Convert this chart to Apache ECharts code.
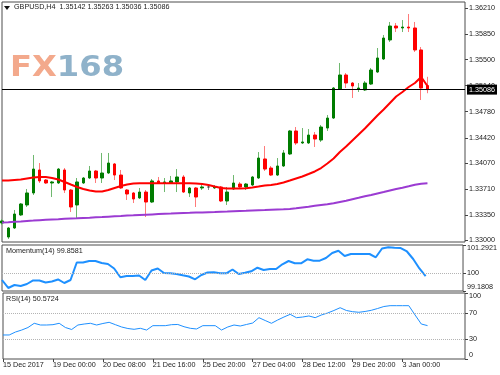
<!DOCTYPE html>
<html><head><meta charset="utf-8">
<script src="https://cdn.jsdelivr.net/npm/echarts@6/dist/echarts.min.js"></script>
<style>html,body{margin:0;padding:0;background:#fff}#c{width:500px;height:375px}</style>
</head><body><div id="c"></div>
<script>
const symbolName = 'GBPUSD,H4';
const xTickLabels = ['15 Dec 2017','19 Dec 00:00','20 Dec 08:00','21 Dec 16:00','25 Dec 20:00','27 Dec 04:00','28 Dec 12:00','29 Dec 20:00','3 Jan 00:00'];
const opens = [1.33242,1.33048,1.33173,1.33353,1.33491,1.33657,1.33975,1.33836,1.33795,1.33795,
1.33975,1.33698,1.33491,1.33795,1.33864,1.33961,1.33864,1.33933,1.34058,1.33905,
1.33698,1.33657,1.33588,1.33670,1.33532,1.33823,1.33795,1.33795,1.33809,1.33878,
1.33657,1.33726,1.33726,1.33740,1.33726,1.33740,1.33546,1.33712,1.33781,1.33740,
1.33767,1.33864,1.34127,1.34002,1.33905,1.34030,1.34196,1.34514,1.34348,1.34348,
1.34458,1.34389,1.34555,1.34693,1.35094,1.35288,1.35177,1.35094,1.35081,1.35163,
1.35329,1.35509,1.35772,1.35965,1.35938,1.35951,1.35938,1.35634,1.35142];
const closes = [1.33270,1.33173,1.33366,1.33505,1.33657,1.33988,1.33823,1.33795,1.33809,1.33988,
1.33698,1.33463,1.33809,1.33864,1.33961,1.33864,1.33933,1.34071,1.33905,1.33726,
1.33643,1.33574,1.33670,1.33532,1.33823,1.33795,1.33809,1.33823,1.33878,1.33670,
1.33726,1.33601,1.33740,1.33740,1.33740,1.33546,1.33670,1.33795,1.33740,1.33781,
1.33878,1.34140,1.33988,1.33905,1.34030,1.34210,1.34514,1.34348,1.34362,1.34458,
1.34403,1.34569,1.34693,1.35108,1.35288,1.35177,1.35136,1.35108,1.35177,1.35357,
1.35523,1.35799,1.35965,1.35938,1.35951,1.35938,1.35634,1.35108,1.35086];
const lows = [1.33214,1.33021,1.33159,1.33339,1.33463,1.33629,1.33795,1.33781,1.33601,1.33781,
1.33657,1.33394,1.33311,1.33781,1.33850,1.33795,1.33795,1.33919,1.33836,1.33712,
1.33560,1.33518,1.33574,1.33325,1.33518,1.33781,1.33670,1.33781,1.33670,1.33657,
1.33601,1.33463,1.33698,1.33698,1.33712,1.33532,1.33491,1.33698,1.33712,1.33698,
1.33753,1.33850,1.33961,1.33892,1.33892,1.34016,1.34182,1.34320,1.34334,1.34334,
1.34293,1.34362,1.34514,1.34680,1.35081,1.35108,1.34970,1.35053,1.35067,1.35150,
1.35315,1.35495,1.35744,1.35882,1.35882,1.35882,1.35606,1.34942,1.35036];
const highs = [1.33297,1.33187,1.33422,1.33518,1.33712,1.34182,1.34071,1.33850,1.33823,1.34002,
1.34002,1.33712,1.33864,1.33878,1.34030,1.33975,1.34210,1.34210,1.34071,1.33975,
1.33712,1.33670,1.33726,1.33698,1.33850,1.33878,1.33864,1.33892,1.33988,1.33905,
1.33740,1.33740,1.33795,1.33781,1.33767,1.33753,1.33740,1.33905,1.33809,1.33795,
1.33892,1.34223,1.34306,1.34030,1.34140,1.34251,1.34528,1.34569,1.34555,1.34541,
1.34500,1.34597,1.34735,1.35122,1.35454,1.35315,1.35191,1.35177,1.35205,1.35385,
1.35661,1.35841,1.36021,1.36007,1.36048,1.36131,1.36021,1.35675,1.35263];
const maFast = [1.33829,1.33829,1.33836,1.33843,1.33857,1.33871,1.33878,1.33878,1.33864,1.33843,
1.33809,1.33774,1.33740,1.33712,1.33691,1.33677,1.33677,1.33698,1.33726,1.33753,
1.33774,1.33788,1.33791,1.33791,1.33791,1.33791,1.33791,1.33791,1.33791,1.33791,
1.33791,1.33788,1.33781,1.33767,1.33746,1.33726,1.33719,1.33719,1.33719,1.33722,
1.33733,1.33746,1.33760,1.33767,1.33781,1.33802,1.33829,1.33857,1.33885,1.33919,
1.33954,1.34002,1.34064,1.34134,1.34223,1.34299,1.34382,1.34465,1.34548,1.34638,
1.34728,1.34811,1.34901,1.34991,1.35053,1.35122,1.35177,1.35260,1.35136];
const maSlow = [1.33249,1.33253,1.33259,1.33264,1.33270,1.33275,1.33281,1.33286,1.33290,1.33294,
1.33299,1.33303,1.33306,1.33311,1.33315,1.33321,1.33325,1.33330,1.33335,1.33339,
1.33344,1.33348,1.33353,1.33357,1.33361,1.33365,1.33369,1.33372,1.33376,1.33379,
1.33382,1.33386,1.33388,1.33391,1.33394,1.33398,1.33401,1.33405,1.33408,1.33411,
1.33415,1.33419,1.33422,1.33426,1.33430,1.33433,1.33437,1.33445,1.33456,1.33467,
1.33480,1.33491,1.33502,1.33514,1.33532,1.33550,1.33571,1.33590,1.33611,1.33629,
1.33650,1.33670,1.33691,1.33712,1.33729,1.33749,1.33770,1.33784,1.33791];
const momentum = [99.686,99.319,99.456,99.410,99.502,99.663,99.663,99.571,99.617,99.709,
99.548,99.686,100.489,100.489,100.558,100.558,100.466,100.420,100.214,99.810,
99.869,99.869,99.892,99.686,100.122,100.214,100.007,99.993,99.961,99.902,
99.846,99.718,99.915,100.030,100.039,99.993,99.993,100.168,99.961,100.021,
100.085,100.250,100.145,100.191,100.191,100.406,100.558,100.452,100.452,100.636,
100.572,100.572,100.695,100.925,101.030,100.787,100.879,100.879,100.879,100.879,
100.728,101.131,101.186,101.168,101.154,100.994,100.650,100.214,99.8581];
const rsi = [36.4,36.4,40.9,43.9,47.7,54.1,51.5,51.5,52.0,54.1,
47.7,44.7,51.5,53.0,54.1,51.5,53.8,55.6,52.0,48.5,
46.2,45.0,46.5,43.9,50.5,50.5,50.5,52.0,52.3,48.9,
46.5,45.5,50.5,50.5,50.5,43.9,48.5,51.5,50.0,52.3,
54.5,62.6,58.3,54.1,59.1,63.6,67.7,62.6,63.6,65.2,
62.6,66.7,69.7,73.5,77.7,73.5,71.7,70.8,72.0,73.8,
76.5,79.5,80.8,80.8,80.8,80.8,66.7,53.0,50.5724];
const priceTicks = [1.33000,1.33350,1.33710,1.34070,1.34420,1.34780,1.35140,1.35500,1.35850,1.36210];
const momentumTicks = [99.1808,100,101.2921];
const rsiTicks = [0,30,70,100];
const rsiLevels = [30,70];
const momentumLevel = 100;
const lastBar = {open:1.35142, high:1.35263, low:1.35036, close:1.35086};
const momentumLast = '99.8581';
const rsiLast = '50.5724';

// ---- layout ----
const FONT = 'Liberation Sans';
const FS = 7.2;
const slots = 75;
const gL = 2, gR = 35;
const mainTop = 2, mainH = 240;
const pxPerUnit = 232.2 / 0.0321;
const y133 = 240.5;
const mainMin = 1.33 - (mainTop + mainH - y133) / pxPerUnit;
const mainMax = 1.33 + (y133 - mainTop) / pxPerUnit;
const cats = Array.from({length: slots}, (_, i) => String(i));
const labelEvery = 8;
const showTick = (i) => i % labelEvery === 0 && i / labelEvery < xTickLabels.length;

const wickData = opens.map((o, i) => [o, closes[i], lows[i], highs[i]]);
const bodyData = opens.map((o, i) => [o, closes[i], Math.min(o, closes[i]), Math.max(o, closes[i])]);

const txt = {fontFamily: FONT, fontSize: FS, color: '#1a1a1a'};
const frame = {show: true, borderColor: '#4d4d4d', borderWidth: 1, backgroundColor: '#fff'};
const smallFont = FS + 'px "' + FONT + '"';

const chart = echarts.init(document.getElementById('c'), null, {renderer: 'canvas'});
chart.setOption({
  animation: false,
  backgroundColor: '#fff',
  grid: [
    Object.assign({left: gL, right: gR, top: mainTop, height: mainH}, frame),
    Object.assign({left: gL, right: gR, top: 245, height: 46}, frame),
    Object.assign({left: gL, right: gR, top: 293, height: 66}, frame)
  ],
  xAxis: [0, 1, 2].map(g => ({
    type: 'category', gridIndex: g, data: cats, boundaryGap: false,
    show: g === 2,
    axisLine: {show: false},
    splitLine: {show: false},
    axisTick: {show: true, interval: showTick, length: 3, lineStyle: {color: '#444'}},
    axisLabel: Object.assign({interval: showTick, align: 'left', margin: 3,
      formatter: (v) => xTickLabels[Number(v) / labelEvery] || ''}, txt)
  })),
  yAxis: [
    {type: 'value', gridIndex: 0, position: 'right', min: mainMin, max: mainMax,
     splitLine: {show: false}, axisLine: {show: false},
     axisTick: {show: true, length: 3, customValues: priceTicks, lineStyle: {color: '#444'}},
     axisLabel: Object.assign({customValues: priceTicks, margin: 4, formatter: v => v.toFixed(5)}, txt)},
    {type: 'value', gridIndex: 1, position: 'right', min: momentumTicks[0], max: momentumTicks[2],
     splitLine: {show: false}, axisLine: {show: false},
     axisTick: {show: true, length: 3, customValues: momentumTicks, lineStyle: {color: '#444'}},
     axisLabel: Object.assign({customValues: momentumTicks, margin: 4,
       verticalAlignMinLabel: 'bottom', verticalAlignMaxLabel: 'top',
       formatter: v => String(v)}, txt)},
    {type: 'value', gridIndex: 2, position: 'right', min: 0, max: 100,
     splitLine: {show: false}, axisLine: {show: false},
     axisTick: {show: true, length: 3, customValues: rsiTicks, lineStyle: {color: '#444'}},
     axisLabel: Object.assign({customValues: rsiTicks, margin: 4,
       verticalAlignMinLabel: 'bottom', verticalAlignMaxLabel: 'top',
       formatter: v => String(v)}, txt)}
  ],
  graphic: [
    {type: 'text', x: 10, y: 55, scaleX: 1.15, z: 0, silent: true,
     style: {x: 0, y: 0, verticalAlign: 'top', text: '{a|FX}{b|168}', rich: {
       a: {fontFamily: 'DejaVu Sans', fontWeight: 'bold', fontSize: 28, fill: '#f3a98c'},
       b: {fontFamily: 'DejaVu Sans', fontWeight: 'bold', fontSize: 28, fill: '#8fb2ca'}}}},
    {type: 'polygon', z: 10, shape: {points: [[4, 6], [10, 6], [7, 10]]}, style: {fill: '#111'}},
    {type: 'text', left: 14, top: 4, z: 10,
     style: {text: symbolName + '  ' + [lastBar.open, lastBar.high, lastBar.low, lastBar.close].map(v => v.toFixed(5)).join(' '),
       font: smallFont, fill: '#1a1a1a'}},
    {type: 'text', left: 6, top: 248, z: 10,
     style: {text: 'Momentum(14) ' + momentumLast, font: smallFont, fill: '#1a1a1a'}},
    {type: 'text', left: 6, top: 296, z: 10,
     style: {text: 'RSI(14) ' + rsiLast, font: smallFont, fill: '#1a1a1a'}}
  ],
  series: [
    {type: 'candlestick', name: 'wick', xAxisIndex: 0, yAxisIndex: 0, data: wickData, barWidth: 1,
     itemStyle: {color: '#6fb86f', color0: '#ff7a7a', borderColor: '#6fb86f', borderColor0: '#ff7a7a', borderColorDoji: '#888', borderWidth: 1}},
    {type: 'candlestick', name: 'body', xAxisIndex: 0, yAxisIndex: 0, data: bodyData, barWidth: 3,
     itemStyle: {color: '#007c00', color0: '#ff0000', borderColor: '#007c00', borderColor0: '#ff0000', borderColorDoji: '#444', borderWidth: 1}},
    {type: 'line', name: 'MA fast', xAxisIndex: 0, yAxisIndex: 0, data: maFast, symbol: 'none',
     lineStyle: {color: '#ff0000', width: 2}, z: 3},
    {type: 'line', name: 'MA slow', xAxisIndex: 0, yAxisIndex: 0, data: maSlow, symbol: 'none',
     lineStyle: {color: '#9b3bd2', width: 2}, z: 3,
     markLine: {silent: true, symbol: 'none', animation: false, precision: 5,
       lineStyle: {color: '#000', type: 'solid', width: 1},
       label: {show: true, position: 'end', distance: 2, formatter: () => lastBar.close.toFixed(5),
         backgroundColor: '#000', color: '#fff', fontFamily: FONT, fontSize: FS, padding: [2, 2, 1, 2]},
       data: [{yAxis: lastBar.close}]}},
    {type: 'line', name: 'Momentum', xAxisIndex: 1, yAxisIndex: 1, data: momentum, symbol: 'none',
     lineStyle: {color: '#1e90ff', width: 2},
     markLine: {silent: true, symbol: 'none', animation: false, precision: 4, label: {show: false},
       lineStyle: {color: '#b4b4b4', type: 'dotted', width: 1}, data: [{yAxis: momentumLevel}]}},
    {type: 'line', name: 'RSI', xAxisIndex: 2, yAxisIndex: 2, data: rsi, symbol: 'none',
     lineStyle: {color: '#1e90ff', width: 1},
     markLine: {silent: true, symbol: 'none', animation: false, label: {show: false},
       lineStyle: {color: '#b4b4b4', type: 'dotted', width: 1}, data: rsiLevels.map(v => ({yAxis: v}))}}
  ]
});
</script></body></html>
